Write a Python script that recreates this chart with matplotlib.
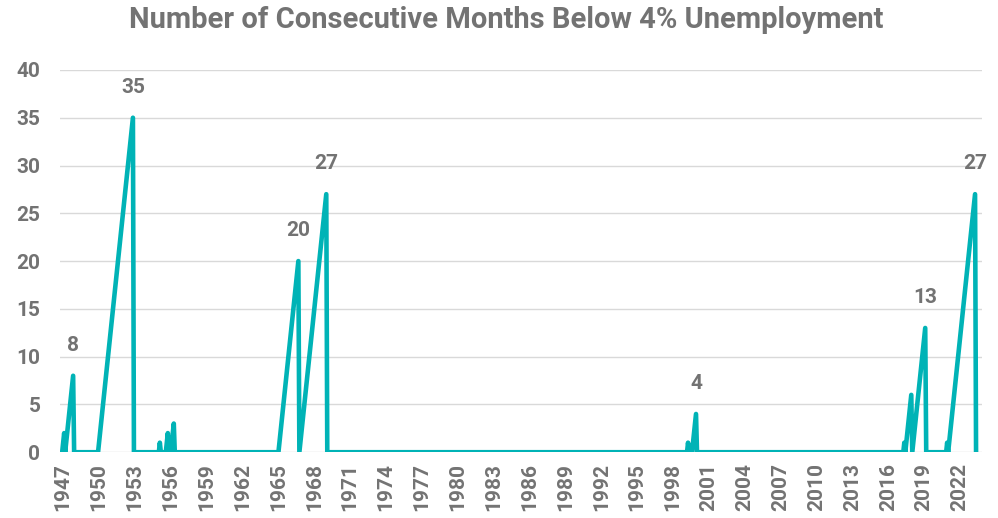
import matplotlib
matplotlib.use("Agg")
import matplotlib.pyplot as plt
from matplotlib import font_manager
import pandas as pd

# turning points of the monthly streak counter (straight runs in between)
dates = ["1947-12", "1948-02", "1948-03", "1948-11", "1948-12",
         "1950-12", "1953-11", "1953-12",
         "1956-01", "1956-02", "1956-03", "1956-08", "1956-10", "1956-11",
         "1957-01", "1957-04", "1957-05",
         "1966-01", "1967-09", "1967-10", "1970-01", "1970-02",
         "2000-03", "2000-04", "2000-05", "2000-08", "2000-12", "2001-01",
         "2018-04", "2018-05", "2018-06", "2018-12", "2019-01", "2020-02", "2020-03",
         "2021-11", "2021-12", "2022-01", "2024-04", "2024-05"]
values = [0, 2, 0, 8, 0,
          0, 35, 0,
          0, 1, 0, 0, 2, 0,
          0, 3, 0,
          0, 20, 0, 27, 0,
          0, 1, 0, 0, 4, 0,
          0, 1, 0, 6, 0, 13, 0,
          0, 1, 0, 27, 0]
labeled = ["1948-11", "1953-11", "1967-09", "1970-01", "2000-12", "2020-02", "2024-04"]
tick_labels = [str(y) for y in range(1947, 2023, 3)]

names = {f.name for f in font_manager.fontManager.ttflist}
fam = "Liberation Sans Narrow" if "Liberation Sans Narrow" in names else "Roboto"
plt.rcParams['font.family'] = [fam, 'DejaVu Sans']

grey = "#737373"
teal = "#00B3B6"

start = pd.Period("1948-01", "M")
x = [(pd.Period(d, "M") - start).n for d in dates]

fig = plt.figure(figsize=(9.98, 5.18), dpi=100)
fig.set_facecolor('white')
ax = fig.add_axes([0.060, 0.127, 0.924, 0.738])

ax.plot(x, values, color=teal, lw=3.3, solid_joinstyle='round', solid_capstyle='round', zorder=3)

for d in labeled:
    i = dates.index(d)
    ax.annotate(str(values[i]), (x[i], values[i]), xytext=(0, 22), textcoords='offset points',
                ha='center', va='center', fontsize=15, fontweight='bold', color=grey)

ax.set_ylim(0, 40)
ax.set_xlim(-3.3, 922)
ax.set_yticks(range(0, 41, 5))
ax.set_xticks(range(0, 36 * len(tick_labels), 36))
ax.set_xticklabels(tick_labels, rotation=90)
ax.tick_params(axis='both', length=0, labelsize=15, labelcolor=grey)
ax.tick_params(axis='y', pad=14)
ax.tick_params(axis='x', pad=8)
for lab in ax.get_xticklabels() + ax.get_yticklabels():
    lab.set_fontweight('bold')
ax.grid(axis='y', color='#D9D9D9', lw=1.0)
ax.set_axisbelow(True)
for s in ax.spines.values():
    s.set_visible(False)

fig.text(0.507, 0.962, "Number of Consecutive Months Below 4% Unemployment",
         ha='center', va='center', fontsize=21, fontweight='bold', color=grey)

fig.savefig("out.png", dpi=100, facecolor='white')
